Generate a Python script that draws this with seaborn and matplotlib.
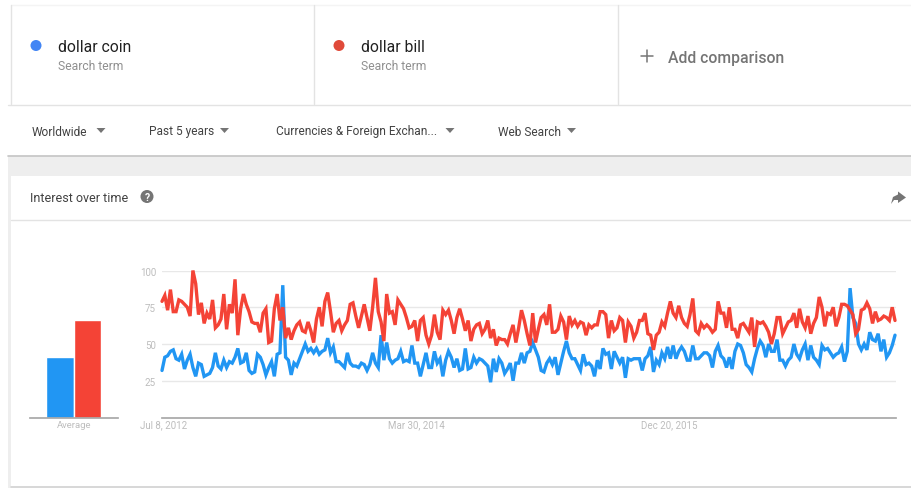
import pandas as pd
import matplotlib.pyplot as plt
import matplotlib.transforms as mtrans
import seaborn as sns
from matplotlib.patches import Polygon, Rectangle, Circle

# ---------- data ----------
TERMS = ["dollar coin", "dollar bill"]
AVERAGES = [41, 66]

COIN = [
    32, 41, 42, 45, 46, 40, 39, 43, 33, 39, 43, 34, 28, 37, 36, 28, 29, 30, 34, 44,
    35, 33, 39, 34, 38, 37, 41, 47, 37, 38, 44, 32, 30, 31, 43, 41, 36, 29, 34, 38,
    28, 43, 44, 90, 41, 39, 29, 37, 35, 40, 45, 50, 45, 47, 44, 47, 43, 45, 46, 54,
    44, 48, 38, 38, 36, 34, 44, 37, 35, 35, 34, 37, 36, 32, 36, 44, 37, 34, 56, 39,
    51, 40, 37, 39, 40, 45, 38, 39, 38, 49, 37, 37, 28, 36, 44, 34, 34, 45, 37, 40,
    28, 39, 45, 41, 34, 40, 32, 33, 47, 33, 34, 41, 37, 40, 39, 37, 35, 24, 40, 31,
    40, 37, 30, 33, 37, 25, 37, 37, 44, 37, 44, 45, 51, 46, 41, 32, 31, 37, 40, 36,
    41, 29, 37, 45, 52, 44, 40, 40, 36, 32, 43, 36, 37, 35, 28, 39, 33, 47, 43, 44,
    33, 45, 41, 37, 41, 27, 40, 39, 40, 40, 40, 32, 40, 42, 48, 31, 39, 36, 44, 40,
    48, 40, 49, 40, 45, 48, 45, 39, 39, 49, 40, 40, 42, 44, 44, 42, 34, 45, 49, 42,
    40, 34, 41, 33, 45, 50, 49, 44, 36, 34, 31, 40, 47, 52, 49, 41, 50, 45, 45, 53,
    39, 39, 35, 39, 41, 50, 43, 40, 46, 50, 39, 49, 41, 39, 36, 49, 46, 47, 44, 41,
    43, 44, 48, 38, 45, 88, 68, 64, 50, 46, 50, 46, 58, 53, 52, 57, 45, 53, 41, 44,
    49, 56,
]

BILL = [
    79, 83, 73, 87, 72, 72, 80, 79, 77, 75, 69, 100, 91, 70, 78, 64, 71, 67, 80, 61,
    63, 67, 84, 60, 77, 71, 94, 56, 74, 84, 77, 72, 65, 64, 64, 58, 71, 74, 51, 52,
    74, 84, 66, 75, 54, 61, 53, 59, 63, 65, 59, 58, 65, 59, 51, 67, 75, 62, 79, 85,
    72, 58, 64, 66, 59, 63, 66, 77, 78, 69, 61, 69, 77, 68, 59, 75, 95, 72, 65, 52,
    84, 71, 72, 63, 80, 77, 74, 68, 61, 62, 66, 52, 66, 68, 56, 50, 56, 70, 58, 53,
    73, 70, 73, 66, 57, 68, 74, 67, 59, 66, 52, 60, 63, 64, 57, 60, 66, 54, 60, 49,
    54, 53, 53, 50, 57, 63, 51, 61, 73, 66, 57, 49, 71, 51, 60, 68, 70, 63, 77, 58,
    58, 60, 69, 65, 53, 69, 63, 66, 62, 65, 64, 56, 63, 61, 63, 63, 72, 72, 70, 54,
    66, 59, 61, 68, 66, 51, 65, 62, 54, 58, 66, 66, 71, 57, 56, 46, 56, 58, 65, 62,
    71, 79, 71, 68, 76, 68, 64, 62, 70, 81, 59, 57, 64, 61, 63, 61, 58, 60, 79, 71,
    71, 61, 75, 60, 60, 54, 63, 64, 61, 58, 68, 48, 65, 64, 65, 62, 58, 50, 57, 68,
    68, 57, 61, 65, 66, 71, 61, 74, 65, 61, 69, 57, 64, 68, 82, 75, 62, 71, 70, 75,
    62, 68, 77, 77, 76, 73, 70, 57, 60, 73, 74, 78, 74, 64, 72, 66, 67, 69, 68, 66,
    75, 66,
]

START_DATE = "2012-07-08"
X_TICKS = ["2012-07-08", "2014-03-30", "2015-12-20"]
X_TICK_LABELS = ["Jul 8, 2012", "Mar 30, 2014", "Dec 20, 2015"]
Y_TICKS = [25, 50, 75, 100]

FILTERS = ["Worldwide", "Past 5 years", "Currencies & Foreign Exchan...", "Web Search"]

# ---------- config ----------
W, H = 911, 489
BLUE = "#2196f3"
RED = "#f44336"
LINE_GREY = "#e3e3e3"
TICK_GREY = "#bdbdbd"


def px_axes(fig, left, top, right, bottom):
    return fig.add_axes([left / W, 1 - bottom / H, (right - left) / W, (bottom - top) / H])


def draw_chrome(ax):
    ax.set_xlim(0, W)
    ax.set_ylim(H, 0)
    ax.axis("off")

    # page bands and the card
    ax.add_patch(Rectangle((8, 157), W - 8, 332, color="#eeeeee", lw=0))
    ax.add_patch(Rectangle((11, 177), W - 11, 310, color="white", lw=0))
    ax.plot([8, W], [157, 157], color="#c4c4c4", lw=1.2)
    ax.plot([11, W], [487.5, 487.5], color="#d4d4d4", lw=1.2)
    ax.plot([8, W], [105.5, 105.5], color=LINE_GREY, lw=1)
    ax.plot([11, W], [220.5, 220.5], color=LINE_GREY, lw=1)
    ax.plot([11, W], [6, 6], color="#f4f4f4", lw=1)
    for x in [10.8, 313.8, 617.8]:
        ax.plot([x, x], [6, 105], color=LINE_GREY, lw=1)

    # search terms
    ax.add_patch(Circle((36, 46.5), 5.5, color="#4285f4", lw=0))
    ax.add_patch(Circle((339, 46.5), 5.5, color="#e04a3a", lw=0))
    for x, term in zip([58, 361], TERMS):
        ax.text(x, 47.5, term, fontsize=11.3, color="#212121", va="center")
        ax.text(x, 66, "Search term", fontsize=8.7, color="#8f8f8f", va="center")

    # add comparison
    ax.plot([641, 653], [56.5, 56.5], color="#757575", lw=1.1)
    ax.plot([647, 647], [50.5, 62.5], color="#757575", lw=1.1)
    ax.text(668.5, 58, "Add comparison", fontsize=11.3, color="#757575", va="center",
            fontweight="medium")

    # filter row
    for x, arrow_x, label in zip([31.5, 149, 275.5, 498.5], [101, 224.5, 450, 571.5], FILTERS):
        ax.text(x, 132, label, fontsize=8.6, color="#424242", va="center")
        ax.add_patch(Polygon([[arrow_x - 4.5, 129], [arrow_x + 4.5, 129], [arrow_x, 134]],
                             color="#757575", lw=0))

    # card header
    ax.text(30, 199, "Interest over time", fontsize=9.0, color="#424242", va="center")
    ax.add_patch(Circle((147, 197.5), 6.5, color="#757575", lw=0))
    ax.text(147, 198, "?", fontsize=7.5, color="white", va="center", ha="center",
            fontweight="bold")
    ax.add_patch(Polygon([[891, 205], [893, 198], [898, 195.5], [898, 192.5], [906, 198.5],
                          [898, 204], [898, 201], [894, 201]],
                         color="#757575", lw=0))


def main():
    sns.set_theme(style="white")
    plt.rcParams["font.family"] = ["Roboto", "DejaVu Sans"]

    weeks = pd.date_range(START_DATE, periods=len(COIN), freq="7D")
    df = pd.concat([
        pd.DataFrame({"week": weeks, "interest": COIN, "term": TERMS[0]}),
        pd.DataFrame({"week": weeks, "interest": BILL, "term": TERMS[1]}),
    ])
    avg = pd.DataFrame({"label": "Average", "term": TERMS, "interest": AVERAGES})
    palette = dict(zip(TERMS, [BLUE, RED]))

    fig = plt.figure(figsize=(W / 100, H / 100), dpi=100, facecolor="white")

    back = fig.add_axes([0, 0, 1, 1])
    draw_chrome(back)

    # average bars
    ax_bar = px_axes(fig, 29.5, 271.5, 118.1, 418.5)
    ax_bar.patch.set_alpha(0)
    sns.barplot(data=avg, x="label", y="interest", hue="term", palette=palette,
                width=0.62, gap=0, saturation=1, legend=False, ax=ax_bar)
    ax_bar.set_xlim(-0.5, 0.5)
    ax_bar.set_ylim(0, 100)
    ax_bar.set_xlabel("")
    ax_bar.set_ylabel("")
    ax_bar.set_yticks([])
    ax_bar.tick_params(axis="x", length=0, pad=2, labelsize=6.8, labelcolor=TICK_GREY)
    sns.despine(ax=ax_bar, left=True)
    ax_bar.spines["bottom"].set_color("#a8a8a8")

    # weekly lines
    ax = px_axes(fig, 161.5, 271.5, 896.5, 418.5)
    ax.patch.set_alpha(0)
    sns.lineplot(data=df, x="week", y="interest", hue="term", palette=palette,
                 linewidth=2.4, legend=False, ax=ax, clip_on=False,
                 solid_joinstyle="miter")

    # 0 and the last week sit about 162 px and 895 px across the figure
    step = pd.Timedelta(days=7)
    ax.set_xlim(weeks[0] - step * 0.18, weeks[-1] + step * 0.53)
    ax.set_ylim(0, 100)
    ax.set_xlabel("")
    ax.set_ylabel("")
    ax.set_xticks(pd.to_datetime(X_TICKS))
    ax.set_xticklabels(X_TICK_LABELS)
    ax.set_yticks(Y_TICKS)
    ax.grid(axis="y", color="#e8e8e8", lw=1)
    ax.set_axisbelow(True)
    ax.tick_params(axis="both", length=0, labelsize=7.0, labelcolor=TICK_GREY)
    ax.tick_params(axis="x", pad=1.5)
    ax.tick_params(axis="y", pad=4)
    sns.despine(ax=ax, left=True)
    ax.spines["bottom"].set_color("#a8a8a8")

    # date labels sit a little right of their ticks in the reference
    nudge = mtrans.ScaledTranslation(1.5 / 100, 0, fig.dpi_scale_trans)
    for label in ax.get_xticklabels():
        label.set_transform(label.get_transform() + nudge)

    fig.savefig("out.png", dpi=100, facecolor="white")


if __name__ == "__main__":
    main()
